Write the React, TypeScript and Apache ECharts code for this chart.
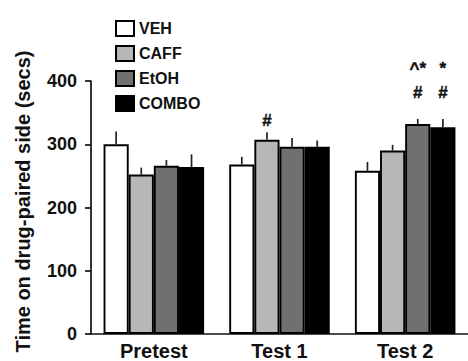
import React, { useEffect, useRef } from "react";
import * as echarts from "echarts";

const categories = ["Pretest", "Test 1", "Test 2"];
const groupNames = ["VEH", "CAFF", "EtOH", "COMBO"];
const vehMeans = [300, 268, 258];
const vehErr = [20, 12, 14];
const caffMeans = [252, 307, 290];
const caffErr = [11, 12, 9];
const etohMeans = [266, 296, 332];
const etohErr = [9, 14, 8];
const comboMeans = [264, 296, 327];
const comboErr = [20, 10, 13];
const yTicks = [0, 100, 200, 300, 400];

const annotCat = [1, 2, 2, 2, 2];
const annotGroup = [1, 2, 2, 3, 3];
const annotY = [338, 382, 420, 382, 420];
const annotText = ["#", "#", "^*", "#", "*"];

const colors = ["#ffffff", "#b7b7b7", "#707070", "#000000"];
const FONT = "Liberation Sans, Arial, sans-serif";
const BAR_FRAC = 0.2;

export default function App() {
  const ref = useRef<HTMLDivElement>(null);
  useEffect(() => {
    if (!ref.current) return;
    const chart = echarts.init(ref.current, null, { renderer: "svg" });
    const means = [vehMeans, caffMeans, etohMeans, comboMeans];
    const errs = [vehErr, caffErr, etohErr, comboErr];

    const barSeries = groupNames.map((name, g) => ({
      name,
      type: "bar",
      data: means[g],
      barWidth: BAR_FRAC * 100 + "%",
      barGap: "0%",
      itemStyle: { color: colors[g], borderColor: "#000", borderWidth: 1.9 },
      z: 2,
    }));

    const errData: number[][] = [];
    groupNames.forEach((_, g) => {
      categories.forEach((__, c) => {
        errData.push([c, g, means[g][c], means[g][c] + errs[g][c]]);
      });
    });

    const errSeries = {
      type: "custom",
      name: "err",
      z: 1,
      data: errData,
      renderItem: (params: any, api: any) => {
        const c = api.value(0);
        const g = api.value(1);
        const band = api.size([1, 0])[0];
        const bw = band * BAR_FRAC;
        const base = api.coord([c, api.value(2)]);
        const top = api.coord([c, api.value(3)]);
        const x = base[0] + (g - 1.5) * bw;
        return {
          type: "line",
          shape: { x1: x, y1: base[1], x2: x, y2: top[1] },
          style: { stroke: "#222", lineWidth: 1.7 },
        };
      },
    };

    const annData = annotText.map((t, i) => [annotCat[i], annotGroup[i], annotY[i]]);
    const annSeries = {
      type: "custom",
      name: "ann",
      z: 3,
      data: annData,
      renderItem: (params: any, api: any) => {
        const c = api.value(0);
        const g = api.value(1);
        const band = api.size([1, 0])[0];
        const bw = band * BAR_FRAC;
        const p = api.coord([c, api.value(2)]);
        const x = p[0] + (g - 1.5) * bw;
        return {
          type: "text",
          x,
          y: p[1],
          style: {
            text: annotText[params.dataIndex],
            fontSize: 17,
            fontWeight: "bold",
            fontFamily: FONT,
            fill: "#111",
            stroke: "#111",
            lineWidth: 0.4,
            align: "center",
            verticalAlign: "middle",
          },
        };
      },
    };

    chart.setOption({
      animation: false,
      legend: {
        data: groupNames,
        orient: "vertical",
        left: 110,
        top: 15,
        itemWidth: 18,
        itemHeight: 15,
        itemGap: 8,
        icon: "rect",
        textStyle: { fontSize: 16, fontWeight: "bold", fontFamily: FONT, color: "#111" },
        selectedMode: false,
      },
      grid: { left: 91, top: 81, width: 379, bottom: 27, containLabel: false },
      xAxis: {
        type: "category",
        data: categories,
        axisLine: { lineStyle: { color: "#111", width: 1.7 } },
        axisTick: { alignWithLabel: true, length: 6, lineStyle: { color: "#111", width: 1.7 } },
        axisLabel: { fontSize: 20, fontWeight: "bold", fontFamily: FONT, color: "#111", margin: 7 },
      },
      yAxis: {
        type: "value",
        min: yTicks[0],
        max: yTicks[yTicks.length - 1],
        interval: 100,
        name: "Time on drug-paired side (secs)",
        nameLocation: "middle",
        nameGap: 58,
        nameTextStyle: { fontSize: 20, fontWeight: "bold", fontFamily: FONT, color: "#111", padding: [0, 0, 0, 12] },
        axisLine: { show: true, lineStyle: { color: "#111", width: 1.7 } },
        axisTick: { show: true, length: 6, lineStyle: { color: "#111", width: 1.7 } },
        axisLabel: { fontSize: 18, fontWeight: "bold", fontFamily: FONT, color: "#111", margin: 14 },
        splitLine: { show: false },
      },
      series: [...barSeries, errSeries, annSeries],
    });
    return () => chart.dispose();
  }, []);
  return (
    <div
      ref={ref}
      style={{ position: "fixed", left: 0, top: 0, width: 468, height: 361, background: "#fff" }}
    />
  );
}
